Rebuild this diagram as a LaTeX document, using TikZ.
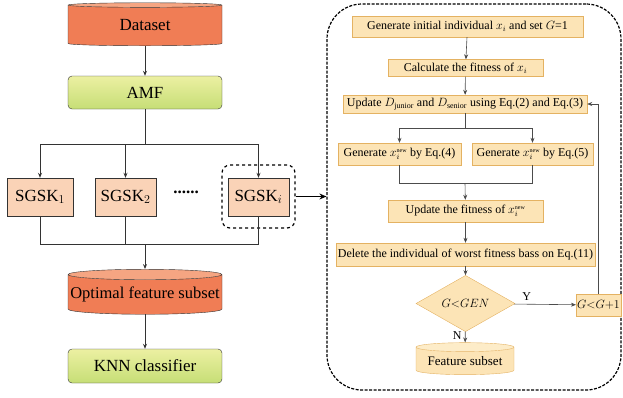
\documentclass[tikz,border=0pt]{standalone}
\usepackage{fontspec}
\setmainfont{Liberation Serif}
\usetikzlibrary{positioning,shapes.geometric,arrows.meta,calc}
\definecolor{dbbody}{RGB}{240,125,85}
\definecolor{dbtop}{RGB}{245,165,130}
\definecolor{grtop}{RGB}{236,240,162}
\definecolor{grbot}{RGB}{198,222,118}
\definecolor{peach}{RGB}{250,211,183}
\definecolor{pale}{RGB}{252,228,182}
\definecolor{paleline}{RGB}{228,178,98}
\definecolor{paletop}{RGB}{253,236,200}

\begin{document}
\begin{tikzpicture}[x=1pt,y=-1pt,
    bigtxt/.style={font=\fontsize{17}{20}\selectfont},
    smalltxt/.style={font=\fontsize{12}{14}\selectfont},
    db/.style={cylinder, shape border rotate=90, aspect=0.09, draw=black!80,
      cylinder uses custom fill, cylinder body fill=dbbody, cylinder end fill=dbtop,
      minimum width=154, minimum height=43, inner sep=0, bigtxt},
    grn/.style={draw=black!80, rounded corners=4, top color=grtop, bottom color=grbot,
      minimum width=154, minimum height=33, inner sep=0, bigtxt},
    sgsk/.style={draw=black!80, fill=peach, minimum height=38, inner sep=0, bigtxt},
    stepbox/.style={draw=paleline, fill=pale, inner xsep=2, inner ysep=0, smalltxt},
    link/.style={draw=black!80, line width=0.9},
    flow/.style={draw=black!70, line width=0.6},
    tip/.style={-{Stealth[length=5,width=4]}}]
  \useasboundingbox (0,0) rectangle (623,397);

  % left column
  \node[db] (ds) at (145,25.5) {Dataset};
  \node[grn] (amf) at (145,92.5) {AMF};
  \node[sgsk, minimum width=66] (s1) at (40,197) {SGSK$_1$};
  \node[sgsk, minimum width=61] (s2) at (125.5,197) {SGSK$_2$};
  \node[sgsk, minimum width=61] (si) at (258.5,197) {SGSK$_i$};
  \node[bigtxt] (dots) at (186,192) {\textbf{......}};
  \node[draw, dashed, line width=1.2, rounded corners=8, minimum width=73, minimum height=63] (frm) at (258.5,196.5) {};
  \node[db, aspect=0.07, minimum height=45, font=\fontsize{16.5}{20}\selectfont] (ofs) at (145,294.5) {Optimal feature subset};
  \node[grn, minimum height=34] (knn) at (145,366) {KNN classifier};

  \coordinate (jt) at (145,144);
  \coordinate (jb) at (145,244);
  \path[link,tip] (ds) edge (amf);
  \draw[link] (amf) -- (jt);
  \draw[link,tip] (jt) -| (s1);
  \draw[link,tip] (jt) -| (s2);
  \draw[link,tip] (jt) -| (si);
  \draw[link] (s1) |- (jb);
  \draw[link] (s2) |- (jb);
  \draw[link] (si.south) |- (jb);
  \draw[link,tip] (jb) -- (ofs);
  \path[link,tip] (ofs) edge (knn);

  % right panel
  \node[draw, line width=1.2, dash pattern=on 3 off 1.5, rounded corners=35,
    minimum width=294, minimum height=386] (pan) at (474,197) {};
  \draw[line width=1.5, -{Stealth[length=7,width=6]}] (frm.east) -- (frm.east -| pan.west);

  \node[stepbox, minimum height=21, minimum width=231] (gen) at (467.5,26.5) {Generate initial individual $x_i$ and set $G$=1};
  \node[stepbox, minimum height=17, minimum width=155] (calc) at (465.5,68) {Calculate the fitness of $x_i$};
  \node[stepbox, minimum height=18, minimum width=244] (upd) at (465,104) {Update $D_{\mathrm{junior}}$ and $D_{\mathrm{senior}}$ using Eq.(2) and Eq.(3)};
  \node[stepbox, minimum height=22, minimum width=123] (gn4) at (399.5,154) {Generate $x_i^{\scriptscriptstyle\mathrm{new}}$ by Eq.(4)};
  \node[stepbox, minimum height=22, minimum width=121] (gn5) at (532.5,154) {Generate $x_i^{\scriptscriptstyle\mathrm{new}}$ by Eq.(5)};
  \node[stepbox, minimum height=22, minimum width=155] (updf) at (465.5,211) {Update the fitness of $x_i^{\scriptscriptstyle\mathrm{new}}$};
  \node[stepbox, minimum height=23, minimum width=255] (del) at (465.5,254.5) {Delete the individual of worst fitness bass on Eq.(11)};
  \node[diamond, draw=paleline, fill=pale, minimum width=99, minimum height=41, inner sep=0,
    font=\fontsize{13}{15}\selectfont] (dec) at (465.5,303.5) {$G{<}GEN$};
  \node[stepbox, minimum height=22, minimum width=39, inner xsep=1] (inc) at (598.5,305) {$G{<}G{+}1$};
  \node[cylinder, shape border rotate=90, aspect=0.12, draw=paleline,
    cylinder uses custom fill, cylinder body fill=pale, cylinder end fill=paletop,
    minimum width=98, minimum height=32, inner sep=0, font=\fontsize{13}{15}\selectfont] (fs) at (465,361) {Feature subset};

  \coordinate (js) at (465,128);
  \coordinate (jm) at (465,183);
  \path[flow,tip]
    (gen) edge (calc)
    (calc) edge (upd)
    (updf) edge (del)
    (del) edge (dec);
  \draw[flow] (upd) -- (js);
  \draw[flow,tip] (js) -| (gn4);
  \draw[flow,tip] (js) -| (gn5);
  \draw[flow] (gn4) |- (jm);
  \draw[flow] (gn5) |- (jm);
  \draw[flow,tip] (jm) -- (updf);
  \draw[flow,tip] (dec) -- node[pos=0.2, above, smalltxt] {Y} (inc);
  \draw[flow,tip] (dec) -- node[pos=0.4, left, smalltxt] {N} (fs);
  \draw[flow,tip] (inc) |- (upd);
\end{tikzpicture}
\end{document}
